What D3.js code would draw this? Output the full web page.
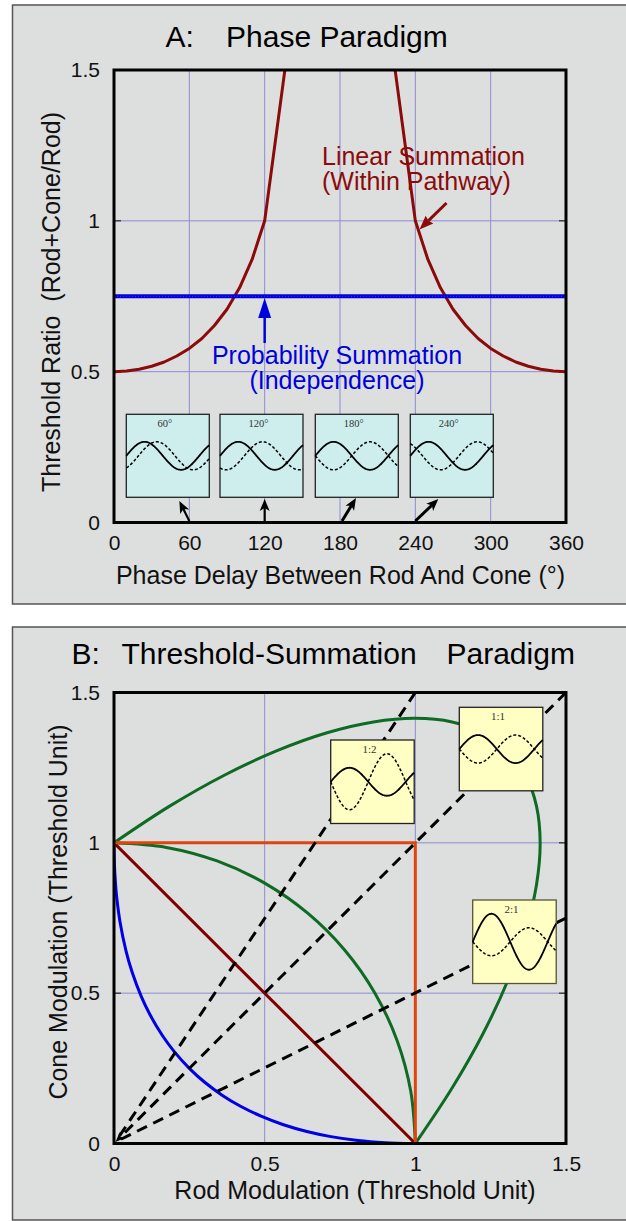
<!DOCTYPE html>
<html><head><meta charset="utf-8">
<script src="https://cdn.jsdelivr.net/npm/d3@7"></script>
<style>
html,body{margin:0;padding:0;background:#fff;}
svg{display:block;}
text{font-family:"Liberation Sans",Arial,Helvetica,sans-serif;}
text.serif{font-family:"Liberation Serif","Times New Roman",serif;}
</style></head><body>
<svg id="chart" width="626" height="1221"></svg>
<script>
// ---------------- DATA: panel A (phase paradigm) ----------------
const phaseTicks = [0, 60, 120, 180, 240, 300, 360];
const ratioTicks = [0, 0.5, 1, 1.5];
const linearPhaseLeft  = [0, 10, 20, 30, 40, 50, 60, 70, 80, 90, 100, 110, 120, 150];
const linearRatioLeft  = [0.5, 0.502, 0.508, 0.518, 0.532, 0.552, 0.577, 0.610, 0.653, 0.707, 0.778, 0.872, 1.0, 1.932];
const linearPhaseRight = [210, 240, 250, 260, 270, 280, 290, 300, 310, 320, 330, 340, 350, 360];
const linearRatioRight = [1.932, 1.0, 0.872, 0.778, 0.707, 0.653, 0.610, 0.577, 0.552, 0.532, 0.518, 0.508, 0.502, 0.5];
const probPhase = [0, 360];
const probRatio = [0.75, 0.75];
const insetPhases = [60, 120, 180, 240];
const insetLabels = ["60°", "120°", "180°", "240°"];

// ---------------- DATA: panel B (threshold-summation paradigm) ----------------
const modTicks = [0, 0.5, 1, 1.5];
const probRod  = [0, 0.001, 0.005, 0.01, 0.02, 0.04, 0.06, 0.09, 0.12, 0.16, 0.2, 0.25, 0.3, 0.36, 0.42, 0.49, 0.56, 0.64, 0.72, 0.81, 0.9, 0.9377, 1];
const probCone = [1, 0.9377, 0.8636, 0.81, 0.7371, 0.64, 0.5701, 0.49, 0.4272, 0.36, 0.3056, 0.25, 0.2046, 0.16, 0.1238, 0.09, 0.0633, 0.04, 0.0229, 0.01, 0.0026, 0.001, 0];
const linRod  = [0, 1];
const linCone = [1, 0];
const indRod  = [0, 1, 1];
const indCone = [1, 1, 0];
const quadRod  = [0, 0.1736, 0.3420, 0.5, 0.6428, 0.7660, 0.8660, 0.9397, 0.9848, 1];
const quadCone = [1, 0.9848, 0.9397, 0.8660, 0.7660, 0.6428, 0.5, 0.3420, 0.1736, 0];
const outerRod  = [0, 0.1846, 0.3660, 0.5412, 0.7071, 0.8609, 1.0, 1.1220, 1.2247, 1.3066, 1.3660, 1.4021, 1.4142, 1.4021, 1.3661, 1.3066, 1.2249, 1.1220, 1];
const outerCone = [1, 1.1220, 1.2249, 1.3066, 1.3661, 1.4021, 1.4142, 1.4021, 1.3660, 1.3066, 1.2247, 1.1220, 1.0, 0.8609, 0.7071, 0.5412, 0.3660, 0.1846, 0];
const rayRod  = [1, 1.5, 1.5];
const rayCone = [1.5, 1.5, 0.75];
const ratioLabels = ["1:2", "1:1", "2:1"];
const ratioRodAmp  = [1, 1, 2];
const ratioConeAmp = [2, 1, 1];

// ---------------- LAYOUT ----------------
const svg = d3.select("#chart");
const BG = "#dddede", GRID = "#8c8cd2";
const xA = d3.scaleLinear().domain([0, 360]).range([114, 566]);
const yA = d3.scaleLinear().domain([0, 1.5]).range([522.5, 70]);
const xB = d3.scaleLinear().domain([0, 1.5]).range([114, 566]);
const yB = d3.scaleLinear().domain([0, 1.5]).range([1143.5, 692.5]);

svg.append("rect").attr("width", 626).attr("height", 1221).attr("fill", "#fff");
svg.append("rect").attr("x", 12.5).attr("y", 5).attr("width", 640).attr("height", 599)
  .attr("fill", BG).attr("stroke", "#555").attr("stroke-width", 1.5);
svg.append("rect").attr("x", 12.5).attr("y", 627).attr("width", 640).attr("height", 593)
  .attr("fill", BG).attr("stroke", "#555").attr("stroke-width", 1.5);

const defs = svg.append("defs");
defs.append("clipPath").attr("id", "clipA").append("rect")
  .attr("x", 114).attr("y", 70).attr("width", 452).attr("height", 452.5);
defs.append("clipPath").attr("id", "clipB").append("rect")
  .attr("x", 114).attr("y", 692.5).attr("width", 452).attr("height", 451);

function arrow(g, x1, y1, x2, y2, color, width, hl, hw, notch) {
  const dx = x2 - x1, dy = y2 - y1, L = Math.hypot(dx, dy), ux = dx / L, uy = dy / L, px = -uy, py = ux;
  const bx = x2 - ux * hl, by = y2 - uy * hl;
  const nx = x2 - ux * hl * (1 - notch), ny = y2 - uy * hl * (1 - notch);
  g.append("line").attr("x1", x1).attr("y1", y1).attr("x2", nx).attr("y2", ny)
    .attr("stroke", color).attr("stroke-width", width);
  g.append("path").attr("d", `M${x2},${y2}L${bx + px * hw / 2},${by + py * hw / 2}L${nx},${ny}L${bx - px * hw / 2},${by - py * hw / 2}Z`)
    .attr("fill", color);
}

function wave(g, x0, y0, w, h, period, amp, phaseDeg, dashed) {
  const cy = y0 + h / 2;
  const pts = d3.range(0, w + 0.5, 0.5).map(t => [x0 + t, cy - amp * Math.sin(2 * Math.PI * t / period - phaseDeg * Math.PI / 180)]);
  g.append("path").attr("d", d3.line()(pts)).attr("fill", "none").attr("stroke", "#000")
    .attr("stroke-width", dashed ? 1.5 : 1.8).attr("stroke-dasharray", dashed ? "3,2" : null);
}

function twoLine(x, y, anchor, color, lines) {
  const t = svg.append("text").attr("x", x).attr("y", y).attr("text-anchor", anchor)
    .attr("font-size", 25).attr("fill", color);
  lines.forEach((s, i) => t.append("tspan").attr("x", x).attr("dy", i ? 25 : 0).text(s));
}

function axes(xs, ys, xt, yt, top, bottom, left, right) {
  const g = svg.append("g");
  g.selectAll(".gx").data(xt.slice(1, -1)).join("line")
    .attr("x1", d => xs(d)).attr("x2", d => xs(d)).attr("y1", top).attr("y2", bottom)
    .attr("stroke", GRID).attr("stroke-width", 1);
  g.selectAll(".gy").data(yt.slice(1, -1)).join("line")
    .attr("y1", d => ys(d)).attr("y2", d => ys(d)).attr("x1", left).attr("x2", right)
    .attr("stroke", GRID).attr("stroke-width", 1);
  g.selectAll(".ty").data(yt).join("path")
    .attr("d", d => `M${left},${ys(d)}h7M${right},${ys(d)}h-7`).attr("stroke", "#444").attr("stroke-width", 1.5);
  return g;
}

function frame(xs, ys, xt, yt, top, bottom, left, right) {
  svg.append("rect").attr("x", left).attr("y", top).attr("width", right - left).attr("height", bottom - top)
    .attr("fill", "none").attr("stroke", "#000").attr("stroke-width", 3);
  const ax = svg.append("g").attr("transform", `translate(0,${bottom})`)
    .call(d3.axisBottom(xs).tickValues(xt).tickFormat(d => String(d)).tickSize(0).tickPadding(13));
  ax.select(".domain").remove();
  ax.selectAll("text").attr("font-size", 21).attr("fill", "#111");
  const ay = svg.append("g").attr("transform", `translate(${left},0)`)
    .call(d3.axisLeft(ys).tickValues(yt).tickFormat(d => String(d)).tickSize(0).tickPadding(14));
  ay.select(".domain").remove();
  ay.selectAll("text").attr("font-size", 21).attr("fill", "#111");
}

// ================= PANEL A =================
svg.append("text").attr("x", 165.5).attr("y", 46.5).attr("font-size", 30).text("A:");
svg.append("text").attr("x", 226).attr("y", 46.5).attr("font-size", 30).text("Phase Paradigm");

axes(xA, yA, phaseTicks, ratioTicks, 70, 522.5, 114, 566);

const gA = svg.append("g").attr("clip-path", "url(#clipA)");
const lineA = d3.line().x(d => xA(d[0])).y(d => yA(d[1]));
gA.append("path").attr("d", lineA(d3.zip(linearPhaseLeft, linearRatioLeft)))
  .attr("fill", "none").attr("stroke", "#8b0a0a").attr("stroke-width", 3).attr("stroke-linejoin", "round");
gA.append("path").attr("d", lineA(d3.zip(linearPhaseRight, linearRatioRight)))
  .attr("fill", "none").attr("stroke", "#8b0a0a").attr("stroke-width", 3).attr("stroke-linejoin", "round");
gA.append("path").attr("d", lineA(d3.zip(probPhase, probRatio)))
  .attr("fill", "none").attr("stroke", "#0000dd").attr("stroke-width", 4);
gA.append("path").attr("d", lineA(d3.zip(probPhase, probRatio)))
  .attr("fill", "none").attr("stroke", "#4a4af0").attr("stroke-width", 0.8).attr("stroke-dasharray", "1,2");

// annotations
twoLine(322, 165, "start", "#8b0a0a", ["Linear Summation", "(Within Pathway)"]);
arrow(svg, 446.5, 203, 419.5, 229.5, "#8b0a0a", 3, 14, 11, 0.1);
twoLine(337, 363.5, "middle", "#0000dd", ["Probability Summation", "(Independence)"]);
arrow(svg, xA(120), 343, xA(120), 298, "#0000dd", 2.5, 20, 13, 0);

// insets A
const boxLeftsA = [126.3, 220, 315.3, 410.3];
const tipOff = [[-10, -20], [0, -22], [14, -23], [23, -22]];
insetPhases.forEach((ph, i) => {
  const x0 = boxLeftsA[i], y0 = 414.3, s = 83;
  const g = svg.append("g");
  g.append("rect").attr("x", x0).attr("y", y0).attr("width", s).attr("height", s)
    .attr("fill", "#cdeeed").attr("stroke", "#222").attr("stroke-width", 1.3);
  wave(g, x0, y0, s, s, 73, 14, 0, false);
  wave(g, x0, y0, s, s, 73, 14, ph, true);
  g.append("text").attr("class", "serif").attr("x", x0 + s / 2 - 3).attr("y", y0 + 13).attr("text-anchor", "middle")
    .attr("font-size", 10.5).attr("fill", "#333").text(insetLabels[i]);
  const tx = xA(ph) + (i === 2 ? 2 : 0), ty = 521;
  arrow(svg, tx, ty, tx + tipOff[i][0], ty + tipOff[i][1], "#000", i >= 2 ? 3 : 2.2, 12, 10, 0.25);
});

frame(xA, yA, phaseTicks, ratioTicks, 70, 522.5, 114, 566);

svg.append("text").attr("transform", "translate(60,302) rotate(-90)").attr("text-anchor", "middle")
  .attr("font-size", 25).style("white-space", "pre").attr("fill", "#111").text("Threshold Ratio  (Rod+Cone/Rod)");
svg.append("text").attr("x", 340.5).attr("y", 583.5).attr("text-anchor", "middle")
  .attr("font-size", 25).attr("fill", "#111").text("Phase Delay Between Rod And Cone (°)");

// ================= PANEL B =================
svg.append("text").attr("x", 71.5).attr("y", 663.5).attr("font-size", 30).text("B:");
svg.append("text").attr("x", 121.5).attr("y", 663.5).attr("font-size", 30).text("Threshold-Summation");
svg.append("text").attr("x", 446.5).attr("y", 663.5).attr("font-size", 30).text("Paradigm");

axes(xB, yB, modTicks, modTicks, 692.5, 1143.5, 114, 566);

const gB = svg.append("g").attr("clip-path", "url(#clipB)");
const lineB = d3.line().x(d => xB(d[0])).y(d => yB(d[1]));
const smoothB = d3.line().x(d => xB(d[0])).y(d => yB(d[1])).curve(d3.curveCatmullRom.alpha(0.5));
gB.append("path").attr("d", smoothB(d3.zip(outerRod, outerCone)))
  .attr("fill", "none").attr("stroke", "#0d6b24").attr("stroke-width", 3);
gB.append("path").attr("d", smoothB(d3.zip(quadRod, quadCone)))
  .attr("fill", "none").attr("stroke", "#0d6b24").attr("stroke-width", 3);
gB.append("path").attr("d", smoothB(d3.zip(probRod, probCone)))
  .attr("fill", "none").attr("stroke", "#0000e6").attr("stroke-width", 3);
gB.append("path").attr("d", lineB(d3.zip(linRod, linCone)))
  .attr("fill", "none").attr("stroke", "#800000").attr("stroke-width", 3);
gB.append("path").attr("d", lineB(d3.zip(indRod, indCone)))
  .attr("fill", "none").attr("stroke", "#e0450f").attr("stroke-width", 3).attr("stroke-linejoin", "miter");

// dashed rays to origin
rayRod.forEach((r, i) => {
  const x1 = xB(r), y1 = yB(rayCone[i]), x2 = xB(0) + 1.5, y2 = yB(0) - 1.5;
  const dx = x2 - x1, dy = y2 - y1, L = Math.hypot(dx, dy), ux = dx / L, uy = dy / L;
  gB.append("line").attr("x1", x1).attr("y1", y1).attr("x2", x2 - ux * 5).attr("y2", y2 - uy * 5)
    .attr("stroke", "#000").attr("stroke-width", 3).attr("stroke-dasharray", "11,7");
  if (i === 1) {
    const px = -uy, py = ux, hl = 10, hw = 8;
    const bx = x2 - ux * hl, by = y2 - uy * hl, nx = x2 - ux * hl * 0.7, ny = y2 - uy * hl * 0.7;
    svg.append("path").attr("d", `M${x2},${y2}L${bx + px * hw / 2},${by + py * hw / 2}L${nx},${ny}L${bx - px * hw / 2},${by - py * hw / 2}Z`).attr("fill", "#000");
  }
});

// insets B
const boxPosB = [[330.7, 740], [459.3, 707.3], [472.7, 900]];
ratioLabels.forEach((lab, i) => {
  const [x0, y0] = boxPosB[i], s = 83.5;
  const g = svg.append("g");
  g.append("rect").attr("x", x0).attr("y", y0).attr("width", s).attr("height", s)
    .attr("fill", "#ffffc4").attr("stroke", i === 2 ? "#555535" : "#222").attr("stroke-width", 1.3);
  wave(g, x0, y0, s, s, 75, 14 * ratioRodAmp[i], 0, false);
  wave(g, x0, y0, s, s, 75, 14 * ratioConeAmp[i], 180, true);
  g.append("text").attr("class", "serif").attr("x", x0 + s / 2 - 3).attr("y", y0 + 13).attr("text-anchor", "middle")
    .attr("font-size", 11).attr("fill", "#333").text(lab);
});

frame(xB, yB, modTicks, modTicks, 692.5, 1143.5, 114, 566);

svg.append("text").attr("transform", "translate(66.5,912) rotate(-90)").attr("text-anchor", "middle")
  .attr("font-size", 25).attr("fill", "#111").text("Cone Modulation (Threshold Unit)");
svg.append("text").attr("x", 355).attr("y", 1199).attr("text-anchor", "middle")
  .attr("font-size", 25).attr("fill", "#111").text("Rod Modulation (Threshold Unit)");
</script>
</body></html>
